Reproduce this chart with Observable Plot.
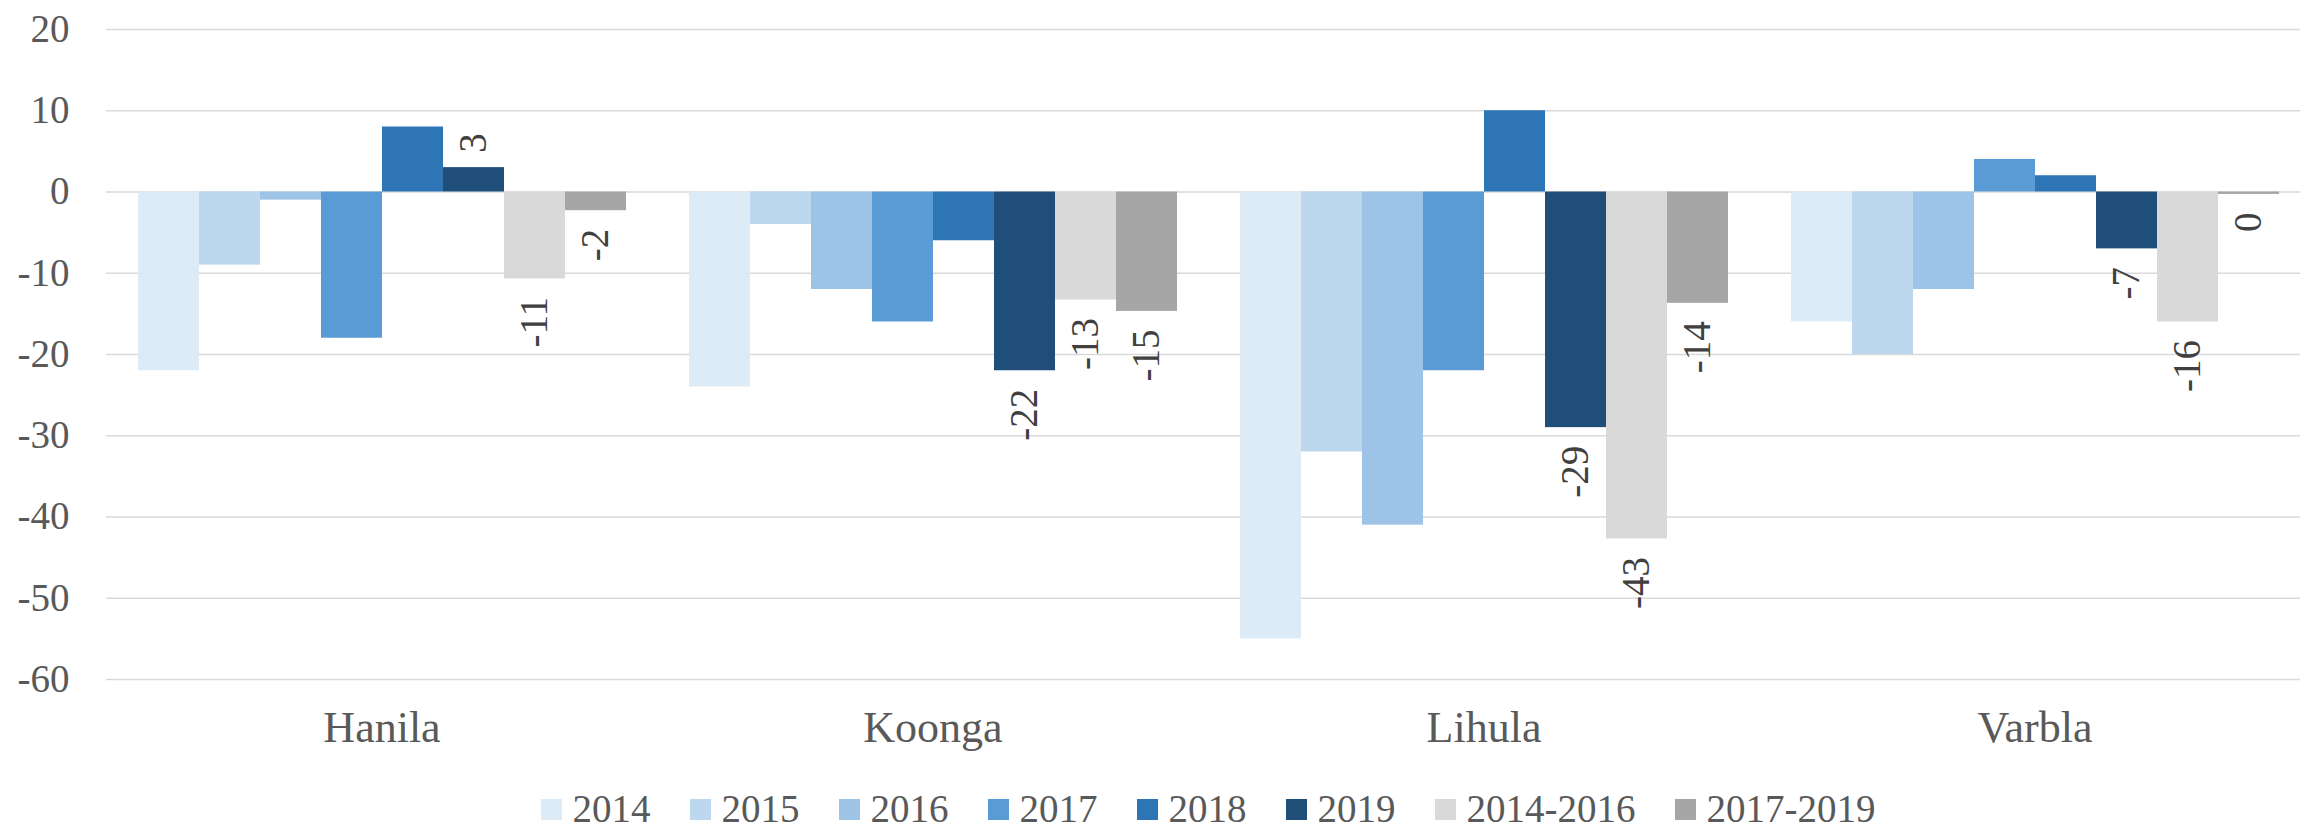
<!DOCTYPE html>
<html><head><meta charset="utf-8">
<script src="https://cdn.jsdelivr.net/npm/d3@7"></script>
<script src="https://cdn.jsdelivr.net/npm/@observablehq/plot@0.6"></script>
<style>
html,body{margin:0;padding:0;background:#fff;overflow:hidden;width:2300px;height:831px}
#chart{position:relative;width:2300px;height:831px;overflow:hidden}
#legend{position:absolute;left:106px;width:2204px;top:789px;height:40px;display:flex;justify-content:center;align-items:center;font-family:"Liberation Serif",serif;font-size:39px;line-height:40px;color:#595959}
.item{display:flex;align-items:center;margin-right:39px;white-space:nowrap}
.item:last-child{margin-right:0}
.sw{width:21px;height:21px;margin-right:11px;flex:none}
</style></head><body><div id="chart"></div>
<script>
const categories = ["Hanila", "Koonga", "Lihula", "Varbla"];
const seriesNames = ["2014", "2015", "2016", "2017", "2018", "2019", "2014-2016", "2017-2019"];
const colors = ["#DDEBF7", "#BDD7EE", "#9DC3E6", "#5B9BD5", "#2E75B6", "#1F4E79", "#D9D9D9", "#A6A6A6"];
const v2014 = [-22, -24, -55, -16];
const v2015 = [-9, -4, -32, -20];
const v2016 = [-1, -12, -41, -12];
const v2017 = [-18, -16, -22, 4];
const v2018 = [8, -6, 10, 2];
const v2019 = [3, -22, -29, -7];
const v2014_2016 = [-10.7, -13.3, -42.7, -16];
const v2017_2019 = [-2.3, -14.7, -13.7, -0.3];
const labelledSeries = ["2019", "2014-2016", "2017-2019"];
const yTicks = [20, 10, 0, -10, -20, -30, -40, -50, -60];

const seriesValues = [v2014, v2015, v2016, v2017, v2018, v2019, v2014_2016, v2017_2019];
const data = [];
categories.forEach((c, i) => seriesValues.forEach((vals, j) => data.push({category: c, series: seriesNames[j], value: vals[i]})));
const labelled = data.filter(d => labelledSeries.includes(d.series));
const fmt = d => `${Math.round(d.value)}`;

const plot = Plot.plot({
  width: 2300, height: 770,
  marginLeft: 106, marginRight: -10, marginTop: 29, marginBottom: 91,
  style: {fontFamily: '"Liberation Serif", serif', fontSize: "39px", color: "#595959", background: "#fff", overflow: "visible"},
  fx: {domain: categories, padding: 0, label: null},
  x: {domain: seriesNames, paddingInner: 0, paddingOuter: 0.5, axis: null},
  y: {domain: [-60, 20], ticks: yTicks, tickFormat: d => `${d}`, tickSize: 0, tickPadding: 37, label: null},
  color: {domain: seriesNames, range: colors},
  marks: [
    Plot.ruleY(yTicks, {stroke: "#d9d9d9", strokeWidth: 1.5}),
    Plot.barY(data, {fx: "category", x: "series", y1: 0, y2: "value", fill: "series"}),
    Plot.text(labelled.filter(d => d.value < 0), {fx: "category", x: "series", y: "value", text: fmt, rotate: -90, textAnchor: "end", dy: 18, fill: "#404040"}),
    Plot.text(labelled.filter(d => d.value >= 0), {fx: "category", x: "series", y: "value", text: fmt, rotate: -90, textAnchor: "start", dy: -15, fill: "#404040"}),
    Plot.axisFx({anchor: "bottom", tickSize: 0, tickPadding: 31, fontSize: 44, label: null, fill: "#595959"})
  ]
});
const chart = document.getElementById("chart");
chart.appendChild(plot);

const legend = document.createElement("div");
legend.id = "legend";
seriesNames.forEach((s, i) => {
  const item = document.createElement("div");
  item.className = "item";
  const sw = document.createElement("span");
  sw.className = "sw";
  sw.style.background = colors[i];
  const t = document.createElement("span");
  t.textContent = s;
  item.appendChild(sw); item.appendChild(t);
  legend.appendChild(item);
});
chart.appendChild(legend);
</script></body></html>
